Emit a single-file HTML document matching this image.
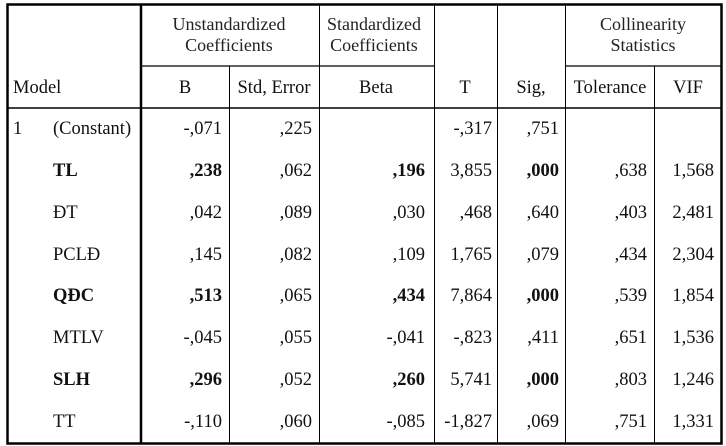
<!DOCTYPE html><html><head><style>body{margin:0;background:#fff}</style></head><body>
<svg width="726" height="446" xmlns="http://www.w3.org/2000/svg" style="display:block">
<g stroke="#000" fill="none">
<rect x="7.5" y="4.5" width="714" height="439" stroke-width="2.5"/>
<line x1="141" y1="4" x2="141" y2="444" stroke-width="2.5"/>
<line x1="7" y1="108" x2="722" y2="108" stroke-width="1.5"/>
<line x1="141" y1="66" x2="434" y2="66" stroke-width="1.2"/>
<line x1="565" y1="66" x2="722" y2="66" stroke-width="1.2"/>
<line x1="229.5" y1="66" x2="229.5" y2="444"/>
<line x1="319.5" y1="4" x2="319.5" y2="444"/>
<line x1="434.5" y1="4" x2="434.5" y2="444"/>
<line x1="497.5" y1="4" x2="497.5" y2="444"/>
<line x1="565.5" y1="4" x2="565.5" y2="444"/>
<line x1="654.5" y1="66" x2="654.5" y2="444"/>
</g>
<g font-family="Liberation Serif, serif" font-size="18" fill="#222" text-anchor="middle">
<text x="229" y="30">Unstandardized</text><text x="229" y="51">Coefficients</text>
<text x="374" y="30">Standardized</text><text x="374" y="51">Coefficients</text>
<text x="643" y="30">Collinearity</text><text x="643" y="51">Statistics</text>
</g>
<g font-family="Liberation Serif, serif" font-size="18.5" fill="#111">
<text x="13" y="93">Model</text>
<g text-anchor="middle">
<text x="185" y="93">B</text><text x="274" y="93">Std, Error</text><text x="376" y="93">Beta</text>
<text x="465" y="93">T</text><text x="531" y="93">Sig,</text><text x="610" y="93">Tolerance</text><text x="688" y="93">VIF</text>
</g>
<text x="13" y="134">1</text><text x="53" y="134">(Constant)</text>
<text x="53" y="176" font-weight="bold">TL</text>
<text x="53" y="218">ĐT</text>
<text x="53" y="260">PCLĐ</text>
<text x="53" y="301" font-weight="bold">QĐC</text>
<text x="53" y="343">MTLV</text>
<text x="53" y="385" font-weight="bold">SLH</text>
<text x="53" y="427">TT</text>
<g text-anchor="end">
<text x="222" y="134">-,071</text><text x="312" y="134">,225</text><text x="492" y="134">-,317</text><text x="559" y="134">,751</text>
<text x="222" y="176" font-weight="bold">,238</text><text x="312" y="176">,062</text><text x="425" y="176" font-weight="bold">,196</text><text x="492" y="176">3,855</text><text x="559" y="176" font-weight="bold">,000</text><text x="647" y="176">,638</text><text x="714" y="176">1,568</text>
<text x="222" y="218">,042</text><text x="312" y="218">,089</text><text x="425" y="218">,030</text><text x="492" y="218">,468</text><text x="559" y="218">,640</text><text x="647" y="218">,403</text><text x="714" y="218">2,481</text>
<text x="222" y="260">,145</text><text x="312" y="260">,082</text><text x="425" y="260">,109</text><text x="492" y="260">1,765</text><text x="559" y="260">,079</text><text x="647" y="260">,434</text><text x="714" y="260">2,304</text>
<text x="222" y="301" font-weight="bold">,513</text><text x="312" y="301">,065</text><text x="425" y="301" font-weight="bold">,434</text><text x="492" y="301">7,864</text><text x="559" y="301" font-weight="bold">,000</text><text x="647" y="301">,539</text><text x="714" y="301">1,854</text>
<text x="222" y="343">-,045</text><text x="312" y="343">,055</text><text x="425" y="343">-,041</text><text x="492" y="343">-,823</text><text x="559" y="343">,411</text><text x="647" y="343">,651</text><text x="714" y="343">1,536</text>
<text x="222" y="385" font-weight="bold">,296</text><text x="312" y="385">,052</text><text x="425" y="385" font-weight="bold">,260</text><text x="492" y="385">5,741</text><text x="559" y="385" font-weight="bold">,000</text><text x="647" y="385">,803</text><text x="714" y="385">1,246</text>
<text x="222" y="427">-,110</text><text x="312" y="427">,060</text><text x="425" y="427">-,085</text><text x="492" y="427">-1,827</text><text x="559" y="427">,069</text><text x="647" y="427">,751</text><text x="714" y="427">1,331</text>
</g>
</g>
</svg>
</body></html>
